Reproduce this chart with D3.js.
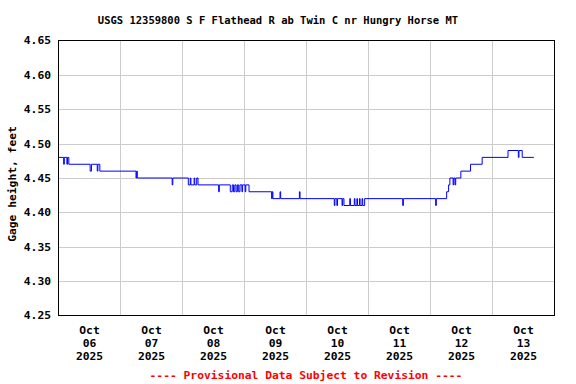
<!DOCTYPE html>
<html>
<head>
<meta charset="utf-8">
<script src="https://cdn.jsdelivr.net/npm/d3@7"></script>
<style>
  body { margin: 0; background: #fff; }
  text { font-family: "DejaVu Sans Mono", monospace; font-weight: bold; }
</style>
</head>
<body>
<script>
// change points: hours after Oct 06 2025 00:00, gage height in feet
const hours = [0, 2.0, 2.25, 3.25, 3.5, 4.0, 12.25, 12.75, 15.0, 15.25, 16.0,
  30.0, 30.25, 30.5, 44.0, 44.25,
  50.25, 51.0, 51.25, 52.5, 52.75, 53.5, 54.0, 62.0, 62.25,
  66.5, 67.25, 67.75, 68.25, 68.75, 69.25, 69.75, 70.25, 71.0, 71.25, 72.25, 72.5, 73.75,
  82.5, 82.75, 83.0, 85.75, 86.0, 93.25, 93.5,
  106.75, 107.0, 107.75, 108.0, 109.75, 110.0, 110.5, 112.75, 113.0, 114.5, 114.75,
  115.5, 115.75, 116.5, 116.75, 117.5, 117.75, 118.5,
  133.25, 133.5, 146.0, 146.25,
  150.25, 151.0, 151.5, 152.75, 153.0, 153.5, 153.75, 155.75, 159.5, 164.0,
  174.0, 178.0, 178.25, 179.5, 184.0];
const stage = [4.48, 4.47, 4.48, 4.47, 4.48, 4.47, 4.46, 4.47, 4.46, 4.47, 4.46,
  4.45, 4.46, 4.45, 4.44, 4.45,
  4.44, 4.45, 4.44, 4.45, 4.44, 4.45, 4.44, 4.43, 4.44,
  4.43, 4.44, 4.43, 4.44, 4.43, 4.44, 4.43, 4.44, 4.43, 4.44, 4.43, 4.44, 4.43,
  4.42, 4.43, 4.42, 4.43, 4.42, 4.43, 4.42,
  4.41, 4.42, 4.41, 4.42, 4.41, 4.42, 4.41, 4.42, 4.41, 4.42, 4.41,
  4.42, 4.41, 4.42, 4.41, 4.42, 4.41, 4.42,
  4.41, 4.42, 4.41, 4.42,
  4.43, 4.44, 4.45, 4.44, 4.45, 4.44, 4.45, 4.46, 4.47, 4.48,
  4.49, 4.48, 4.49, 4.48, 4.48];
const yTicks = [4.25, 4.30, 4.35, 4.40, 4.45, 4.50, 4.55, 4.60, 4.65];
const dayLabels = ["06", "07", "08", "09", "10", "11", "12", "13"];
const title = "USGS 12359800 S F Flathead R ab Twin C nr Hungry Horse MT";

const width = 576, height = 384;
const start = new Date(2025, 9, 6);
const end = new Date(2025, 9, 14);

const svg = d3.select("body").append("svg")
  .attr("width", width)
  .attr("height", height);

const x = d3.scaleTime().domain([start, end]).range([58.5, 554.5]);
const y = d3.scaleLinear().domain([4.25, 4.65]).range([315.5, 40.5]);

// grid
svg.append("g").selectAll("line")
  .data(yTicks.slice(1, -1))
  .enter().append("line")
  .attr("x1", 58.5).attr("x2", 554.5)
  .attr("y1", d => Math.round(y(d)) + 0.5).attr("y2", d => Math.round(y(d)) + 0.5)
  .attr("stroke", "#cccccc");

const days = d3.timeDay.range(d3.timeDay.offset(start, 1), end);
svg.append("g").selectAll("line")
  .data(days)
  .enter().append("line")
  .attr("x1", d => x(d)).attr("x2", d => x(d))
  .attr("y1", 40.5).attr("y2", 315.5)
  .attr("stroke", "#cccccc");

// data line
const pts = hours.map((h, i) => [d3.timeMinute.offset(start, h * 60), stage[i]]);
svg.append("path")
  .datum(pts)
  .attr("fill", "none")
  .attr("stroke", "#0000ff")
  .attr("stroke-width", 1)
  .attr("d", d3.line().x(d => x(d[0])).y(d => y(d[1])).curve(d3.curveStepAfter));

// frame
svg.append("rect")
  .attr("x", 58.5).attr("y", 40.5)
  .attr("width", 496).attr("height", 275)
  .attr("fill", "none").attr("stroke", "#000");

// y tick labels
svg.append("g").selectAll("text")
  .data(yTicks)
  .enter().append("text")
  .attr("x", 51)
  .attr("y", d => y(d))
  .attr("dy", "0.35em")
  .attr("text-anchor", "end")
  .attr("font-size", "11.3px")
  .text(d => d.toFixed(2));

// x labels at noon
const noon = dayLabels.map((d, i) => d3.timeHour.offset(start, 24 * i + 12));
const xl = svg.append("g").selectAll("text")
  .data(noon)
  .enter().append("text")
  .attr("text-anchor", "middle")
  .attr("font-size", "11.3px");
[["Oct", 334], [null, 347], ["2025", 360]].forEach(([t, yy], k) => {
  xl.append("tspan")
    .attr("x", d => x(d))
    .attr("y", yy)
    .text((d, i) => k === 1 ? dayLabels[i] : t);
});

svg.append("text")
  .attr("x", 12).attr("y", 0)
  .attr("transform", "translate(16,184) rotate(-90)")
  .attr("x", 0)
  .attr("text-anchor", "middle")
  .attr("font-size", "11.3px")
  .text("Gage height, feet");

svg.append("text")
  .attr("x", 278).attr("y", 24)
  .attr("text-anchor", "middle")
  .attr("font-size", "10.5px")
  .text(title);

svg.append("text")
  .attr("x", 306).attr("y", 379)
  .attr("text-anchor", "middle")
  .attr("font-size", "11.3px")
  .attr("fill", "#ff0000")
  .text("---- Provisional Data Subject to Revision ----");
</script>
</body>
</html>
